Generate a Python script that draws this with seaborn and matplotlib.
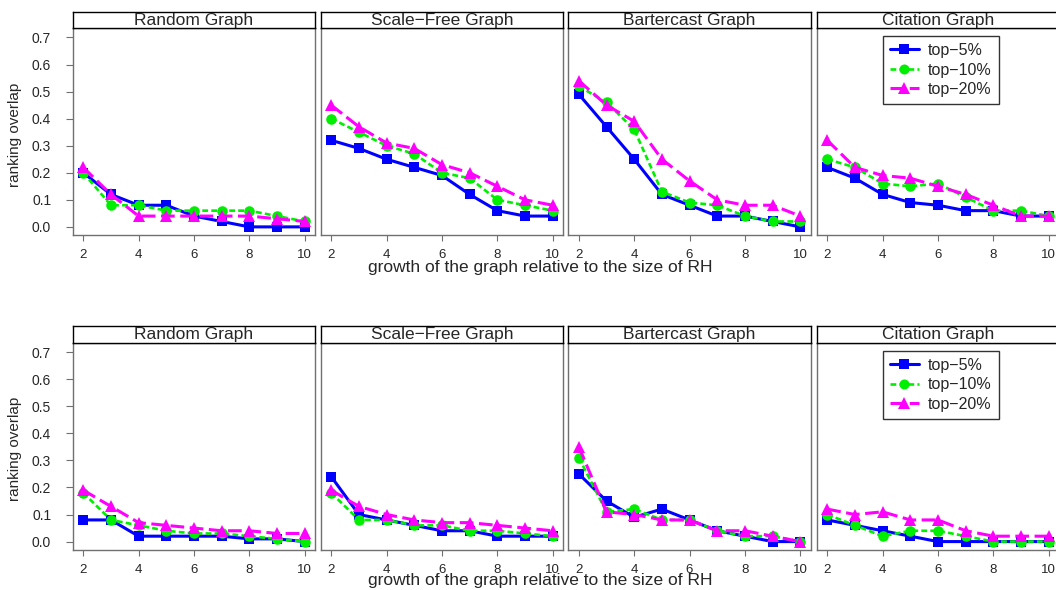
import matplotlib
matplotlib.use("Agg")
import matplotlib.pyplot as plt
import seaborn as sns
from matplotlib.lines import Line2D

sns.set_style("white")
plt.rcParams["font.family"] = ["Liberation Sans", "DejaVu Sans"]

# ---------------- data ----------------
growth = [2, 3, 4, 5, 6, 7, 8, 9, 10]
graphs = ["Random Graph", "Scale\u2212Free Graph", "Bartercast Graph", "Citation Graph"]
series = ["top\u22125%", "top\u221210%", "top\u221220%"]
yticks = [0.0, 0.1, 0.2, 0.3, 0.4, 0.5, 0.6, 0.7]
xticks = [2, 4, 6, 8, 10]
xlabel = "growth of the graph relative to the size of RH"
ylabel = "ranking overlap"

# top row
top_random_5 = [0.20, 0.12, 0.08, 0.08, 0.04, 0.02, 0.00, 0.00, 0.00]
top_random_10 = [0.20, 0.08, 0.08, 0.06, 0.06, 0.06, 0.06, 0.04, 0.02]
top_random_20 = [0.22, 0.12, 0.04, 0.04, 0.04, 0.04, 0.04, 0.03, 0.02]

top_scalefree_5 = [0.32, 0.29, 0.25, 0.22, 0.19, 0.12, 0.06, 0.04, 0.04]
top_scalefree_10 = [0.40, 0.35, 0.30, 0.27, 0.20, 0.18, 0.10, 0.08, 0.06]
top_scalefree_20 = [0.45, 0.37, 0.31, 0.29, 0.23, 0.20, 0.15, 0.10, 0.08]

top_barter_5 = [0.49, 0.37, 0.25, 0.12, 0.08, 0.04, 0.04, 0.02, 0.00]
top_barter_10 = [0.52, 0.46, 0.36, 0.13, 0.09, 0.08, 0.04, 0.02, 0.02]
top_barter_20 = [0.54, 0.45, 0.39, 0.25, 0.17, 0.10, 0.08, 0.08, 0.04]

top_citation_5 = [0.22, 0.18, 0.12, 0.09, 0.08, 0.06, 0.06, 0.04, 0.04]
top_citation_10 = [0.25, 0.22, 0.16, 0.15, 0.16, 0.11, 0.06, 0.06, 0.04]
top_citation_20 = [0.32, 0.22, 0.19, 0.18, 0.15, 0.12, 0.08, 0.04, 0.04]

# bottom row
bot_random_5 = [0.08, 0.08, 0.02, 0.02, 0.02, 0.02, 0.01, 0.01, 0.00]
bot_random_10 = [0.18, 0.08, 0.06, 0.04, 0.03, 0.03, 0.02, 0.01, 0.00]
bot_random_20 = [0.19, 0.13, 0.07, 0.06, 0.05, 0.04, 0.04, 0.03, 0.03]

bot_scalefree_5 = [0.24, 0.10, 0.08, 0.06, 0.04, 0.04, 0.02, 0.02, 0.02]
bot_scalefree_10 = [0.18, 0.08, 0.08, 0.06, 0.06, 0.04, 0.04, 0.03, 0.02]
bot_scalefree_20 = [0.19, 0.13, 0.10, 0.08, 0.07, 0.07, 0.06, 0.05, 0.04]

bot_barter_5 = [0.25, 0.15, 0.09, 0.12, 0.08, 0.04, 0.02, 0.00, 0.00]
bot_barter_10 = [0.31, 0.11, 0.12, 0.08, 0.08, 0.04, 0.02, 0.02, 0.00]
bot_barter_20 = [0.35, 0.11, 0.10, 0.08, 0.08, 0.04, 0.04, 0.02, 0.00]

bot_citation_5 = [0.08, 0.06, 0.04, 0.02, 0.00, 0.00, 0.00, 0.00, 0.00]
bot_citation_10 = [0.10, 0.06, 0.02, 0.04, 0.04, 0.02, 0.00, 0.00, 0.00]
bot_citation_20 = [0.12, 0.10, 0.11, 0.08, 0.08, 0.04, 0.02, 0.02, 0.02]

rows = [
    [[top_random_5, top_random_10, top_random_20],
     [top_scalefree_5, top_scalefree_10, top_scalefree_20],
     [top_barter_5, top_barter_10, top_barter_20],
     [top_citation_5, top_citation_10, top_citation_20]],
    [[bot_random_5, bot_random_10, bot_random_20],
     [bot_scalefree_5, bot_scalefree_10, bot_scalefree_20],
     [bot_barter_5, bot_barter_10, bot_barter_20],
     [bot_citation_5, bot_citation_10, bot_citation_20]],
]

# ---------------- styles ----------------
colors = ["#0000FF", "#00EE00", "#FF00FF"]
markers = ["s", "o", "^"]
msizes = [7.8, 7.6, 9.2]
lstyles = ["-", (0, (2.2, 1.2)), (0, (4.5, 1.8))]
lwidths = [2.2, 1.9, 2.2]

W, H = 1056, 590
fig = plt.figure(figsize=(W / 100, H / 100), dpi=100)

col_left = [72.7, 320.7, 568.3, 816.7]
pw = 242.5
row_top = [28.0, 342.7]
ph = 207.0
sh = 16.5
frame_gray = "#707070"

for r in range(2):
    for c in range(4):
        left = col_left[c] / W
        bottom = 1 - (row_top[r] + ph) / H
        ax = fig.add_axes([left, bottom, pw / W, ph / H])
        for i in range(3):
            sns.lineplot(x=growth, y=rows[r][c][i], ax=ax, color=colors[i],
                         marker=markers[i], markersize=msizes[i],
                         markeredgewidth=0, linestyle=lstyles[i],
                         linewidth=lwidths[i], legend=False)
        ax.set_xlim(1.62, 10.38)
        ax.set_ylim(-0.03, 0.735)
        ax.set_xticks(xticks)
        ax.set_xticklabels([str(t) for t in xticks], fontsize=9.5)
        ax.set_yticks(yticks)
        if c == 0:
            ax.set_yticklabels([f"{t:.1f}" for t in yticks], fontsize=10)
            ax.tick_params(axis="y", left=True, length=5, width=0.8,
                           color=frame_gray, pad=10.5)
        else:
            ax.set_yticklabels([])
            ax.tick_params(axis="y", left=False)
        ax.tick_params(axis="x", bottom=True, length=4, width=0.8,
                       color=frame_gray, pad=6)
        ax.set_xlabel("")
        ax.set_ylabel("")
        for s in ax.spines.values():
            s.set_color(frame_gray)
            s.set_linewidth(1.0)
        ax.grid(False)

        # strip
        sax = fig.add_axes([left, 1 - row_top[r] / H, pw / W, sh / H])
        sax.set_xticks([])
        sax.set_yticks([])
        for s in sax.spines.values():
            s.set_color("black")
            s.set_linewidth(1.0)
        sax.text(0.5, 0.47, graphs[c], ha="center", va="center",
                 fontsize=12.5, transform=sax.transAxes)

        if c == 3:
            handles = [Line2D([0], [0], color=colors[i], marker=markers[i],
                              markersize=msizes[i] * 0.95, markeredgewidth=0,
                              linestyle=lstyles[i], linewidth=lwidths[i])
                       for i in range(3)]
            leg = ax.legend(handles, series, loc="upper left",
                            bbox_to_anchor=(0.272, 0.962), borderaxespad=0,
                            fancybox=False, frameon=True, fontsize=11.5,
                            handlelength=1.8, handletextpad=0.6,
                            labelspacing=0.28, borderpad=0.45)
            leg.get_frame().set_edgecolor("black")
            leg.get_frame().set_linewidth(1.0)

    # axis labels for each row
    xl_y = [267, 581][r]
    yl_y = [135, 449][r]
    fig.text(540 / W, 1 - xl_y / H, xlabel, ha="center", va="center", fontsize=12.5)
    fig.text(15 / W, 1 - yl_y / H, ylabel, ha="center", va="center",
             rotation=90, fontsize=11)

fig.savefig("out.png", dpi=100)
